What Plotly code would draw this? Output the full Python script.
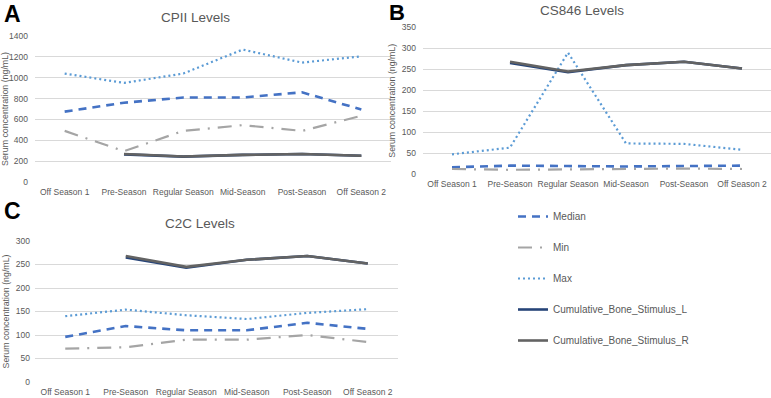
import plotly.graph_objects as go

categories = ["Off Season 1", "Pre-Season", "Regular Season", "Mid-Season", "Post-Season", "Off Season 2"]

# Panel A: CPII
cpii_median = [675, 760, 810, 810, 860, 695]
cpii_min = [490, 295, 490, 545, 490, 635]
cpii_max = [1040, 950, 1040, 1270, 1145, 1205]

# Panel B: CS846
cs846_median = [16, 20, 19, 18, 19, 20]
cs846_min = [12, 10, 11, 12, 13, 12]
cs846_max = [47, 63, 290, 73, 72, 58]

# Panel C: C2C
c2c_median = [96, 119, 110, 110, 126, 113]
c2c_min = [71, 74, 90, 90, 100, 85]
c2c_max = [140, 154, 142, 134, 147, 155]

# Cumulative bone stimulus (same in each panel)
stim_L = [None, 265, 243, 260, 268, 252]
stim_R = [None, 268, 245, 260, 268, 252]

W, H = 771, 398
FONT = "Liberation Sans, Arial, sans-serif"
GRAY_TXT = "#595959"

styles = {
    "Median": dict(color="#4472C4", width=2.6, dash="8px,6px"),
    "Min": dict(color="#A5A5A5", width=2.2, dash="14px,8px,2px,8px"),
    "Max": dict(color="#5B9BD5", width=2.2, dash="2px,3px"),
    "Cumulative_Bone_Stimulus_L": dict(color="#264478", width=2.6),
    "Cumulative_Bone_Stimulus_R": dict(color="#636363", width=2.6),
}

panels = [
    ("x", "y", cpii_median, cpii_min, cpii_max),
    ("x2", "y2", cs846_median, cs846_min, cs846_max),
    ("x3", "y3", c2c_median, c2c_min, c2c_max),
]

fig = go.Figure()
for i, (xa, ya, med, mn, mx) in enumerate(panels):
    series = [
        ("Median", med),
        ("Min", mn),
        ("Max", mx),
        ("Cumulative_Bone_Stimulus_L", stim_L),
        ("Cumulative_Bone_Stimulus_R", stim_R),
    ]
    for name, vals in series:
        fig.add_trace(go.Scatter(
            x=categories, y=vals, mode="lines", name=name,
            line=styles[name], xaxis=xa, yaxis=ya,
            showlegend=(i == 0), legendgroup=name,
            connectgaps=False,
        ))

def fx(a):
    return a / W

def fy(b):
    return 1 - b / H

def px_x(a, b):
    return [max(0, fx(a)), min(1, fx(b))]

def px_y(top, bottom):
    return [fy(bottom), min(1, fy(top))]

axis_common = dict(
    showgrid=True, gridcolor="#D9D9D9", gridwidth=1,
    zeroline=False, showline=False, automargin=False,
    tickfont=dict(family=FONT, size=8.5, color=GRAY_TXT),
)

xcommon = dict(axis_common, showgrid=False, type="category", range=[-0.5, 5.5],
               ticks="", ticklabelstandoff=3, tickangle=0)
ytitle = dict(text="Serum concentration (ng/mL)", font=dict(family=FONT, size=8.8, color=GRAY_TXT), standoff=4)

fig.update_layout(
    width=W, height=H,
    margin=dict(l=0, r=0, t=0, b=0),
    paper_bgcolor="white", plot_bgcolor="white",
    font=dict(family=FONT, color=GRAY_TXT),
    xaxis=dict(xcommon, domain=px_x(35, 391), anchor="y"),
    yaxis=dict(axis_common, domain=px_y(36, 182), range=[0, 1400], dtick=200,
               anchor="x", title=ytitle, ticklabelstandoff=6),
    xaxis2=dict(xcommon, domain=px_x(423, 771), anchor="y2"),
    yaxis2=dict(axis_common, domain=px_y(27.5, 174), range=[0, 350], dtick=50,
                anchor="x2", title=ytitle, ticklabelstandoff=6),
    xaxis3=dict(xcommon, domain=px_x(35, 398), anchor="y3"),
    yaxis3=dict(axis_common, domain=px_y(241, 382), range=[0, 300], dtick=50,
                anchor="x3", title=ytitle, ticklabelstandoff=4),
    legend=dict(
        x=fx(513), y=fy(202), xanchor="left", yanchor="top",
        font=dict(family=FONT, size=10, color=GRAY_TXT),
        traceorder="grouped", tracegroupgap=12,
        bgcolor="rgba(0,0,0,0)", itemwidth=30,
    ),
    showlegend=True,
)

annotations = [
    ("CPII Levels", 195, 18),
    ("CS846 Levels", 582, 11),
    ("C2C Levels", 200, 223),
]
for text, x, y in annotations:
    fig.add_annotation(xref="paper", yref="paper", showarrow=False,
                       xanchor="center", yanchor="middle",
                       text=text, x=fx(x), y=fy(y),
                       font=dict(family=FONT, size=13.5, color=GRAY_TXT))

for lab, x, y, s in [("A", 2, 14, 23), ("B", 387, 13, 22), ("C", 2, 211, 23)]:
    fig.add_annotation(xref="paper", yref="paper", showarrow=False,
                       xanchor="left", yanchor="middle",
                       text="<b>" + lab + "</b>", x=fx(x), y=fy(y),
                       font=dict(family=FONT, size=s, color="black"))

fig.write_html(
    "out.html",
    config={"displayModeBar": False},
    post_script="document.body.style.margin='0';document.body.style.overflow='hidden';",
)
